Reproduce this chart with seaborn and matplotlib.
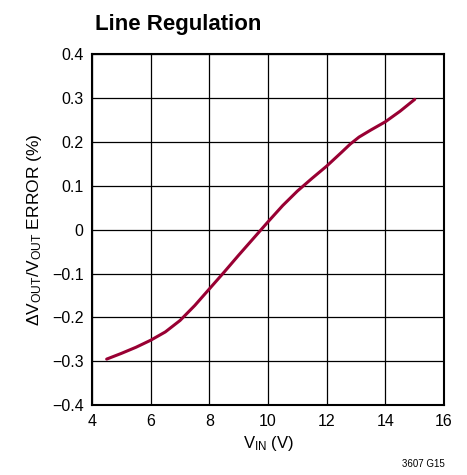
import matplotlib
matplotlib.use("Agg")
import matplotlib.pyplot as plt
import seaborn as sns
import pandas as pd

vin = [4.5, 5.0, 5.5, 6.0, 6.5, 7.0, 7.5, 8.0, 8.5, 9.0, 9.5, 10.0, 10.5, 11.0, 11.5, 12.0, 12.5, 12.8, 13.1, 13.5, 14.0, 14.5, 15.0]
err = [-0.295, -0.282, -0.268, -0.252, -0.233, -0.207, -0.173, -0.135, -0.097, -0.058, -0.020, 0.018, 0.055, 0.088, 0.117, 0.145, 0.176, 0.195, 0.211, 0.227, 0.246, 0.270, 0.297]
xticks = [4, 6, 8, 10, 12, 14, 16]
yticks = [-0.4, -0.3, -0.2, -0.1, 0, 0.1, 0.2, 0.3, 0.4]
ytick_labels = ["\u22120.4", "\u22120.3", "\u22120.2", "\u22120.1", "0", "0.1", "0.2", "0.3", "0.4"]

sns.set_style("white")
plt.rcParams["font.family"] = ["Liberation Sans", "DejaVu Sans"]
plt.rcParams["mathtext.default"] = "regular"
plt.rcParams["text.color"] = "black"
plt.rcParams["axes.labelcolor"] = "black"

df = pd.DataFrame({"vin": vin, "err": err})

fig = plt.figure(figsize=(4.67, 4.75), dpi=100)
ax = fig.add_axes([0.197, 0.147, 0.754, 0.739])
sns.lineplot(data=df, x="vin", y="err", ax=ax, color="#990033", linewidth=2.2)

ax.set_xlim(4, 16)
ax.set_ylim(-0.4, 0.4)
ax.set_xticks(xticks)
ax.set_yticks(yticks)
ax.set_yticklabels(ytick_labels)
ax.grid(True, color="black", linewidth=0.9)
ax.set_axisbelow(True)
for s in ax.spines.values():
    s.set_color("black")
    s.set_linewidth(1.5)
ax.tick_params(length=0, labelsize=11.5, pad=6, colors="black")
ax.set_xlabel("V$_{IN}$ (V)", fontsize=12, labelpad=4)
ax.set_ylabel("\u0394V$_{OUT}$/V$_{OUT}$ ERROR (%)", fontsize=12.5, labelpad=6)

fig.text(0.203, 0.937, "Line Regulation", fontsize=16, fontweight="bold", ha="left", va="baseline")
fig.text(0.953, 0.012, "3607 G15", fontsize=7, ha="right", va="bottom")

fig.savefig("out.png", dpi=100)
